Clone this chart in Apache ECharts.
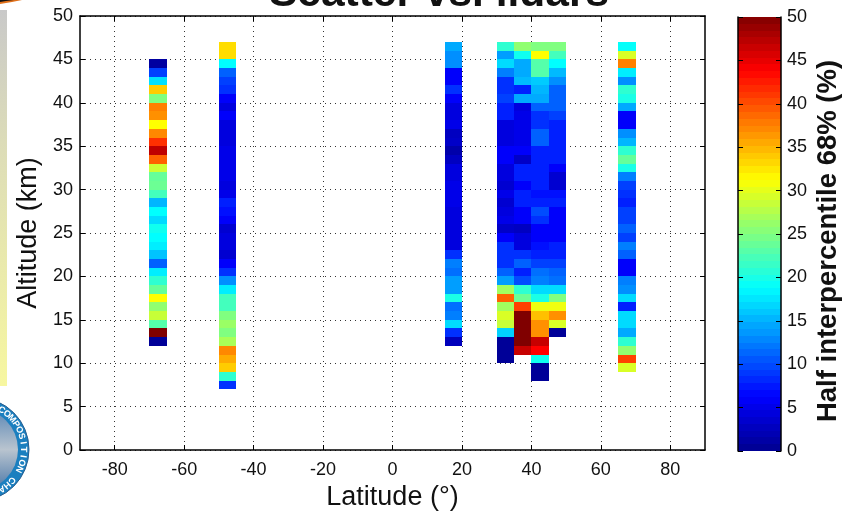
<!DOCTYPE html>
<html>
<head>
<meta charset="utf-8">
<title>Scatter vs. lidars</title>
<script src="https://cdn.jsdelivr.net/npm/echarts@6/dist/echarts.min.js"></script>
<style>
	html,body{margin:0;padding:0;background:#fff;overflow:hidden;}
	#chart{width:854px;height:512px;}
</style>
</head>
<body>
<div id="chart"></div>
<script>
	var titleText = 'Scatter vs. lidars';
	var xName = 'Latitude (°)';
	var yName = 'Altitude (km)';
	var barName = 'Half interpercentile 68% (%)';
	var xTicks = [-80,-60,-40,-20,0,20,40,60,80];
	var yTicks = [0,5,10,15,20,25,30,35,40,45,50];

	// 每列: 纬度起点, 最低高度, 自下而上每 1 km 的值
	var lat70 = -70, lat50 = -50, lat15 = 15, lat30 = 30, lat35 = 35, lat40 = 40, lat45 = 45, lat65 = 65;
	var base70 = 12, base50 = 7, base15 = 12, base30 = 10, base35 = 11, base40 = 8, base45 = 13, base65 = 9;
	var values70 = [0.5,50,22.9,28.5,25.8,31.25,23.7,21,17.9,11,15.8,17.9,18.75,19.5,17,18.75,15.2,22,24,23.7,28.7,39,46.9,41.4,37.1,31.25,36.7,37.5,25,33.75,17.3,9.4,1];
	var values50 = [8.6,21,33.75,35.4,37.1,27,25,26.3,25,22,22,17.9,13.3,8.6,6,3.7,4.4,4.4,3.7,6,7,7.8,5,4.4,5,5,5,5,4.4,4.4,4.4,6,4.4,6,8.6,9.4,11,18.75,32.9,32.9];
	var values15 = [2.5,8.6,17,12.5,11.7,20,14,14,11.7,12.5,8.6,4.4,4.4,4.4,4.4,4.4,5,5,5,4.4,4.4,2.8,1.5,3.2,2.8,5,4.4,4.4,6,8.6,6,6,13.3,13.3,14.6];
	var values30 = [0.5,0.5,0.5,16.5,28.5,29.4,26.6,39,26.6,14,11,8.6,8.6,8.6,6,3.2,5,4.4,3.7,5,3.7,4.4,4.4,6,6,4.4,4.4,4.4,7.8,7.8,9.4,8.6,8.6,12.5,17,14,21];
	var values35 = [46.5,50,50,50,50,40.6,24,21,10,7.8,11,8.6,4.4,4.4,2.8,6,6,7.8,7.8,6,7.8,7.8,3.2,6,5,5,5,5,4.4,14.6,7.8,15.4,14.6,14.6,19.5,25.8];
	var values40 = [0.5,0.5,19.5,43.75,46.5,36.7,36.7,34.35,30.5,20,17,12.5,11.7,9.4,7.8,7,6,6,8.6,10,7.8,7,7.8,7.8,7.8,7.8,7.8,11,11,8.6,8.6,11,14.6,15.2,16.2,22.9,22.9,31.25,25];
	var values45 = [0.5,29.4,36.7,30.5,25,17,11.7,11,9.4,7.8,7.8,6,6,6,6,7.8,7,3.7,3.7,6,7.8,7.8,7.8,7.8,7.8,9.4,11,11,11,13.3,15.4,18.75,22,25];
	var values65 = [29.4,40.6,25.8,21,14.6,17,17,7.8,17,13.3,12.5,6,6,11,12.5,9.4,11,9.4,9.4,7.8,8.6,9.4,12.5,20,23.7,21,15.2,13.3,6,6,14.6,20,21,13.3,17.9,37.5,29.4,19];

	// 色标的 64 个色阶
	var barLevels = [0.4,1.2,2,2.7,3.5,4.3,5.1,5.9,6.6,7.4,8.2,9,9.8,10.5,11.3,12.1,12.9,13.7,14.4,15.2,16,16.8,17.6,18.3,19.1,19.9,20.7,21.5,22.2,23,23.8,24.6,25.4,26.1,26.9,27.7,28.5,29.3,30,30.8,31.6,32.4,33.2,33.9,34.7,35.5,36.3,37.1,37.8,38.6,39.4,40.2,41,41.7,42.5,43.3,44.1,44.9,45.6,46.4,47.2,48,48.8,49.6];
	var jetColors = ['#00008f','#0000ff','#007fff','#00ffff','#80ff80','#ffff00','#ff8000','#ff0000','#800000'];

	var columns = [
		[lat70,base70,values70],[lat50,base50,values50],[lat15,base15,values15],
		[lat30,base30,values30],[lat35,base35,values35],[lat40,base40,values40],[lat45,base45,values45],
		[lat65,base65,values65]
	];
	var cells = [];
	columns.forEach(function(col){
		col[2].forEach(function(v,i){
			cells.push([col[0],col[0]+5,col[1]+i,col[1]+i+1,v]);
		});
	});
	var levelStep = 50/barLevels.length;
	var barCells = barLevels.map(function(v,i){
		return [0,1,i*levelStep,(i+1)*levelStep,v];
	});

	function renderCell(params,api){
		var p0 = api.coord([api.value(0),api.value(2)]);
		var p1 = api.coord([api.value(1),api.value(3)]);
		var x0 = Math.round(p0[0]), x1 = Math.round(p1[0]);
		var y0 = Math.round(p0[1]), y1 = Math.round(p1[1]);
		return {
			type:'rect',
			shape:{x:x0,y:y1,width:x1-x0,height:y0-y1},
			style:{fill:api.visual('color')}
		};
	}

	var fontName = '"Liberation Sans", Arial, sans-serif';
	var labelStyle = {color:'#111',fontFamily:fontName,fontSize:18};

	// 左侧被裁切的背景装饰
	var logoX = -23, logoY = 449.5, logoR = 46.5;
	var logoChars = 'COMPOSITION CHA'.split('');
	var decor = [
		{type:'rect',z:1,shape:{x:0,y:10,width:7,height:376},style:{fill:new echarts.graphic.LinearGradient(0,0,0,1,[{offset:0,color:'#c9c9c9'},{offset:0.35,color:'#dcdcb8'},{offset:1,color:'#f7f7a0'}])}},
		{type:'polygon',z:1,shape:{points:[[0,0],[22,0],[12,2],[0,4]]},style:{fill:'#e0701a'}},
		{type:'polygon',z:1,shape:{points:[[0,0],[14,0],[6,1],[0,2]]},style:{fill:'#111'}},
		{type:'circle',z:1,shape:{cx:logoX,cy:logoY,r:52},style:{fill:'#1b7fbf',stroke:'#2a5f90',lineWidth:1}},
		{type:'circle',z:1,shape:{cx:logoX,cy:logoY,r:41},style:{fill:new echarts.graphic.LinearGradient(0,0,0,1,[{offset:0,color:'#5a86b5'},{offset:0.5,color:'#b9c4cf'},{offset:1,color:'#4a77a8'}])}}
	];
	logoChars.forEach(function(ch,i){
		var a = (-58+i*8.3)*Math.PI/180;
		decor.push({
			type:'text',z:2,
			x:logoX+logoR*Math.cos(a),y:logoY+logoR*Math.sin(a),
			rotation:-(a+Math.PI/2),
			style:{text:ch,fill:'#fff',fontSize:9,fontWeight:'bold',fontFamily:fontName,align:'center',verticalAlign:'middle'}
		});
	});

	var myChart = echarts.init(document.getElementById('chart'));
	var option = {
		animation:false,
		backgroundColor:'#fff',
		title:{
			text:titleText,left:434,top:-32,textAlign:'center',
			textStyle:{fontFamily:fontName,fontSize:42.5,fontWeight:'bold',color:'#111'}
		},
		graphic:decor,
		grid:[
			{left:80,top:16,width:625,height:434,outerBoundsMode:'none'},
			{left:738,top:17,width:43,height:434,outerBoundsMode:'none'}
		],
		visualMap:{
			type:'continuous',show:false,min:0,max:50,dimension:4,seriesIndex:[0,1],
			inRange:{color:jetColors}
		},
		xAxis:[
			{
				type:'value',gridIndex:0,min:-90,max:90,name:xName,nameLocation:'middle',nameGap:32,
				nameTextStyle:{fontFamily:fontName,fontSize:27,color:'#111'},
				axisLine:{onZero:false,lineStyle:{color:'#000',width:1.5}},
				axisTick:{inside:true,length:5,customValues:xTicks,lineStyle:{color:'#000'}},
				axisLabel:{customValues:xTicks,margin:11,color:labelStyle.color,fontFamily:fontName,fontSize:labelStyle.fontSize},
				splitLine:{show:true,lineStyle:{color:'#333',type:[1,4]}}
			},
			{
				type:'value',gridIndex:0,position:'top',min:-90,max:90,
				axisLine:{onZero:false,lineStyle:{color:'#000',width:1.5}},
				axisTick:{inside:true,length:5,customValues:xTicks,lineStyle:{color:'#000'}},
				axisLabel:{show:false},splitLine:{show:false}
			},
			{type:'value',gridIndex:1,min:0,max:1,show:false}
		],
		yAxis:[
			{
				type:'value',gridIndex:0,min:0,max:50,interval:5,name:yName,nameLocation:'middle',nameGap:33,
				nameTextStyle:{fontFamily:fontName,fontSize:27,color:'#111'},
				axisLine:{onZero:false,lineStyle:{color:'#000',width:1.5}},
				axisTick:{inside:true,length:5,lineStyle:{color:'#000'}},
				axisLabel:{margin:7,color:labelStyle.color,fontFamily:fontName,fontSize:labelStyle.fontSize,customValues:yTicks},
				splitLine:{show:true,lineStyle:{color:'#333',type:[1,4]}}
			},
			{
				type:'value',gridIndex:0,position:'right',min:0,max:50,interval:5,
				axisLine:{onZero:false,lineStyle:{color:'#000',width:1.5}},
				axisTick:{inside:true,length:5,lineStyle:{color:'#000'}},
				axisLabel:{show:false},splitLine:{show:false}
			},
			{
				type:'value',gridIndex:1,position:'right',min:0,max:50,interval:5,z:5,name:barName,nameLocation:'middle',nameGap:33,
				nameTextStyle:{fontFamily:fontName,fontSize:27.5,fontWeight:'bold',color:'#111',padding:[0,14,0,0]},
				axisLine:{onZero:false,lineStyle:{color:'#000',width:1.5}},
				axisTick:{inside:true,length:5,lineStyle:{color:'#000'}},
				axisLabel:{margin:6,color:labelStyle.color,fontFamily:fontName,fontSize:labelStyle.fontSize},
				splitLine:{show:false}
			},
			{
				type:'value',gridIndex:1,position:'left',min:0,max:50,interval:5,z:5,
				axisLine:{onZero:false,lineStyle:{color:'#000',width:1.5}},
				axisTick:{inside:true,length:5,lineStyle:{color:'#000'}},
				axisLabel:{show:false},splitLine:{show:false}
			}
		],
		series:[
			{
				type:'custom',xAxisIndex:0,yAxisIndex:0,renderItem:renderCell,
				encode:{x:[0,1],y:[2,3]},data:cells,silent:true
			},
			{
				type:'custom',xAxisIndex:2,yAxisIndex:2,renderItem:renderCell,
				encode:{x:[0,1],y:[2,3]},data:barCells,silent:true
			}
		]
	};
	myChart.setOption(option);
</script>
</body>
</html>
